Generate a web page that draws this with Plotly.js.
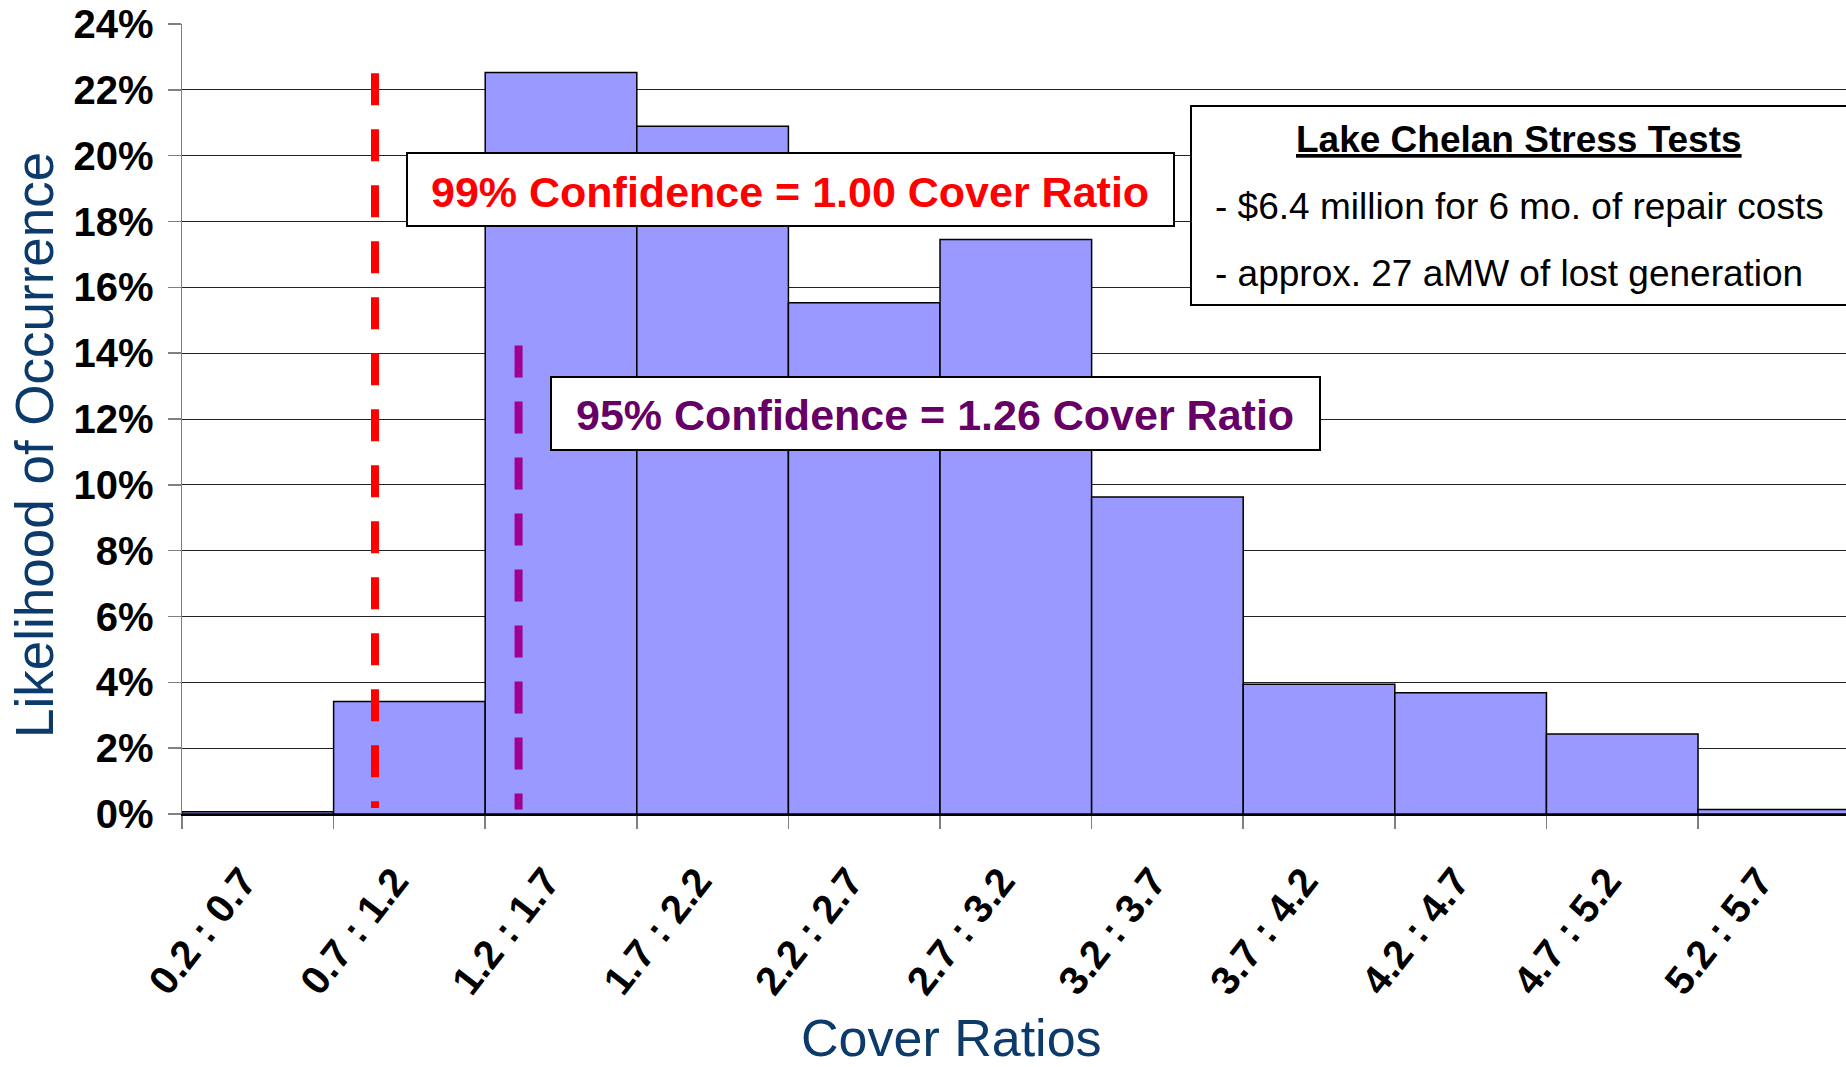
<!DOCTYPE html>
<html><head><meta charset="utf-8">
<script src="https://cdn.plot.ly/plotly-3.0.1.min.js"></script>
<style>html,body{margin:0;padding:0;background:#fff;}#chart{width:1846px;height:1067px;}</style>
</head><body><div id="chart"></div>
<script>
// ---- data ----
const categories = ["0.2 : 0.7","0.7 : 1.2","1.2 : 1.7","1.7 : 2.2","2.2 : 2.7","2.7 : 3.2","3.2 : 3.7","3.7 : 4.2","4.2 : 4.7","4.7 : 5.2","5.2 : 5.7"];
const likelihood = [0.0007, 0.0342, 0.2253, 0.2089, 0.1553, 0.1745, 0.0963, 0.0394, 0.0368, 0.0243, 0.0014];
const yTickVals = [0, 0.02, 0.04, 0.06, 0.08, 0.10, 0.12, 0.14, 0.16, 0.18, 0.20, 0.22, 0.24];
const confLabels = ["99% Confidence = 1.00 Cover Ratio", "95% Confidence = 1.26 Cover Ratio"];
const confPositions = [0.773, 1.72];   // position along the category axis
const confTops = [0.225, 0.1423];
const confBottoms = [0.0018, 0.0014];
const confLineColors = ["#FF0000", "#A0008F"];
const confTextColors = ["#FF0000", "#660066"];
const notesTitle = "Lake Chelan Stress Tests";
const notesLines = ["- $6.4 million for 6 mo. of repair costs", "- approx. 27 aMW of lost generation"];
const xTitle = "Cover Ratios";
const yTitle = "Likelihood of Occurrence";

// ---- layout helpers ----
const W = 1846, H = 1067;
const M = {l: 182, r: 0, t: 24, b: 253};
const PW = W - M.l - M.r, PH = H - M.t - M.b;
const px = x => (x - M.l) / PW;        // pixel -> paper
const py = y => (H - M.b - y) / PH;
const FONT = "Liberation Sans, Arial, sans-serif";
const TITLE_BLUE = "#0b3a6b";

const boxes = [
  {x0: 407, x1: 1174, y0: 153, y1: 226},
  {x0: 551, x1: 1320, y0: 377, y1: 450},
  {x0: 1191, x1: 1870, y0: 106, y1: 305}
];

const shapes = [];
boxes.forEach(b => shapes.push({
  type: "rect", xref: "paper", yref: "paper",
  x0: px(b.x0), x1: px(b.x1), y0: py(b.y1), y1: py(b.y0),
  fillcolor: "#ffffff", line: {color: "#000", width: 2}, layer: "above"
}));
confPositions.forEach((p, i) => shapes.push({
  type: "line", xref: "x", yref: "y",
  x0: p, x1: p, y0: confTops[i], y1: confBottoms[i],
  line: {color: confLineColors[i], width: 8, dash: "32px,24px"}, layer: "above"
}));

function ann(text, x, y, font, xanchor, extra) {
  return Object.assign({text: text, xref: "paper", yref: "paper", x: px(x), y: py(y),
    xanchor: xanchor || "center", yanchor: "middle", showarrow: false, font: font}, extra || {});
}

const annotations = [
  ann(confLabels[0], 790, 192, {family: FONT, size: 43, color: confTextColors[0], weight: 700}),
  ann(confLabels[1], 935, 415, {family: FONT, size: 43, color: confTextColors[1], weight: 700}),
  ann(notesTitle, 1519, 139, {family: FONT, size: 37, color: "#000", weight: 700, lineposition: "under"}),
  ann(notesLines[0], 1213, 206, {family: FONT, size: 37, color: "#000"}, "left"),
  ann(notesLines[1], 1213, 273, {family: FONT, size: 37, color: "#000"}, "left"),
  ann(xTitle, 951, 1038, {family: FONT, size: 52, color: TITLE_BLUE}),
  ann(yTitle, 35, 445, {family: FONT, size: 53, color: TITLE_BLUE}, "center", {textangle: -90})
];

const trace = {
  type: "bar", x: categories, y: likelihood, width: 1,
  marker: {color: "#9999FF", line: {color: "#000", width: 1.5}},
  hoverinfo: "x+y"
};

const layout = {
  width: W, height: H,
  margin: M,
  paper_bgcolor: "#fff", plot_bgcolor: "#fff",
  showlegend: false,
  bargap: 0,
  font: {family: FONT},
  xaxis: {
    type: "category", range: [-0.5, 10.476], tickson: "boundaries",
    ticks: "outside", ticklen: 13, tickcolor: "#808080", tickwidth: 1.5,
    showline: true, linecolor: "#000", linewidth: 1.5,
    showgrid: false, zeroline: false,
    tickangle: -52, ticklabelstandoff: 26, ticklabelshift: -15,
    tickfont: {family: FONT, size: 40, color: "#000", weight: 700}
  },
  yaxis: {
    range: [0, 0.24], tickvals: yTickVals, tickformat: ".0%",
    ticks: "outside", ticklen: 13, tickcolor: "#808080", tickwidth: 1.5,
    ticklabelstandoff: 6,
    showline: true, linecolor: "#808080", linewidth: 1.5,
    showgrid: true, gridcolor: "#222", gridwidth: 1,
    zeroline: false,
    tickfont: {family: FONT, size: 40, color: "#000", weight: 700}
  },
  shapes: shapes,
  annotations: annotations
};

Plotly.newPlot("chart", [trace], layout, {displayModeBar: false, staticPlot: true});
</script>
</body></html>
